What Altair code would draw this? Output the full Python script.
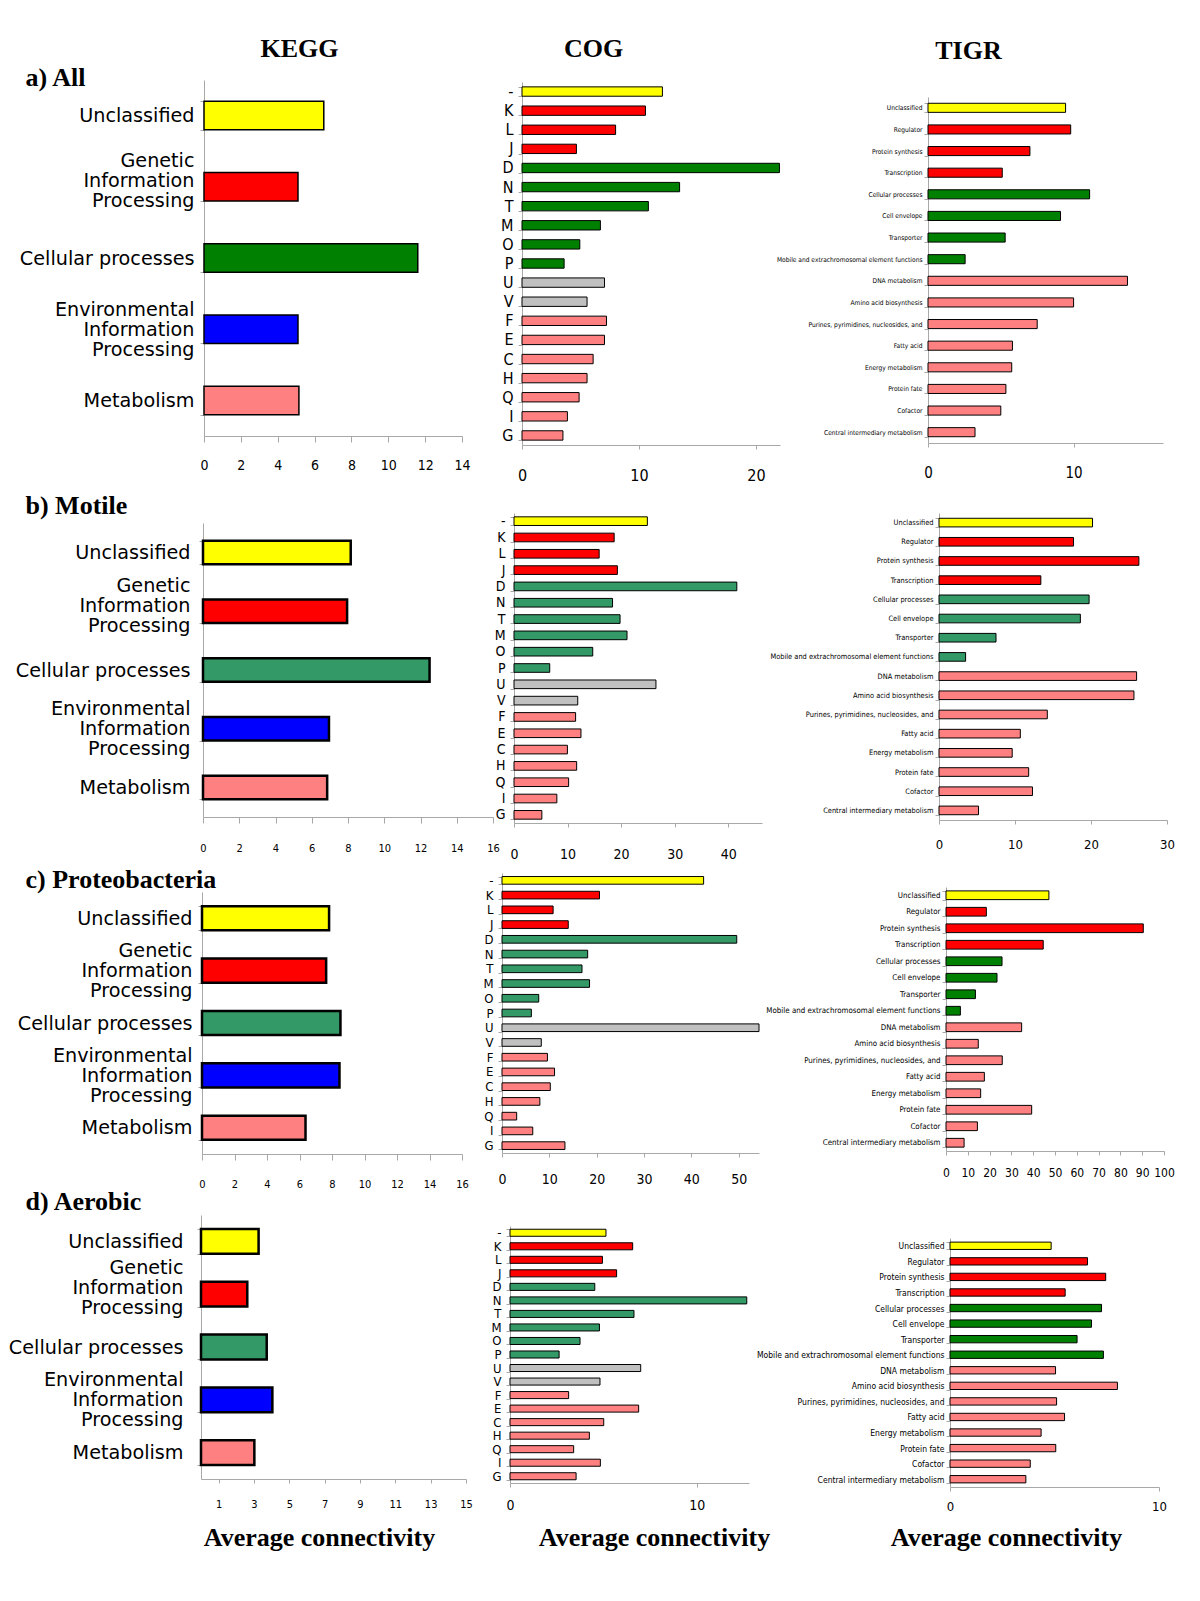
import altair as alt
import pandas as pd

# ---------------- data ----------------
KEGG_CATS = ["Unclassified", "Genetic Information Processing", "Cellular processes",
             "Environmental Information Processing", "Metabolism"]
KEGG_GROUPS = ["Unclassified", "Genetic", "Cellular", "Environmental", "Metabolism"]
KEGG_ALL = [6.5, 5.1, 11.6, 5.1, 5.15]
KEGG_MOTILE = [8.15, 7.95, 12.5, 6.95, 6.85]
KEGG_PROTEO = [7.82, 7.64, 8.52, 8.46, 6.37]
KEGG_AEROBIC = [3.26, 2.62, 3.72, 4.04, 3.02]

COG_CATS = ["-", "K", "L", "J", "D", "N", "T", "M", "O", "P", "U", "V",
            "F", "E", "C", "H", "Q", "I", "G"]
COG_GROUPS = ["Unclassified", "Genetic", "Genetic", "Genetic",
              "Cellular", "Cellular", "Cellular", "Cellular", "Cellular", "Cellular",
              "Other", "Other",
              "Metabolism", "Metabolism", "Metabolism", "Metabolism", "Metabolism",
              "Metabolism", "Metabolism"]
COG_ALL = [12.0, 10.55, 8.0, 4.65, 22.0, 13.47, 10.8, 6.7, 4.94, 3.6, 7.05, 5.56,
           7.22, 7.05, 6.08, 5.56, 4.88, 3.88, 3.5]
COG_MOTILE = [24.9, 18.7, 15.9, 19.3, 41.6, 18.4, 19.8, 21.1, 14.7, 6.67, 26.5, 11.9,
              11.5, 12.5, 9.97, 11.7, 10.2, 8.0, 5.2]
COG_PROTEO = [42.6, 20.6, 10.8, 14.0, 49.6, 18.1, 16.9, 18.5, 7.76, 6.2, 54.3, 8.3,
              9.6, 11.1, 10.2, 8.0, 3.1, 6.5, 13.3]
COG_AEROBIC = [5.14, 6.57, 4.95, 5.71, 4.54, 12.68, 6.64, 4.79, 3.75, 2.63, 7.0, 4.82,
               3.14, 6.89, 5.02, 4.25, 3.41, 4.84, 3.54]

TIGR_CATS = ["Unclassified", "Regulator", "Protein synthesis", "Transcription",
             "Cellular processes", "Cell envelope", "Transporter",
             "Mobile and extrachromosomal element functions", "DNA metabolism",
             "Amino acid biosynthesis", "Purines, pyrimidines, nucleosides, and",
             "Fatty acid", "Energy metabolism", "Protein fate", "Cofactor",
             "Central intermediary metabolism"]
TIGR_GROUPS = ["Unclassified", "Genetic", "Genetic", "Genetic",
               "Cellular", "Cellular", "Cellular", "Cellular",
               "Metabolism", "Metabolism", "Metabolism", "Metabolism",
               "Metabolism", "Metabolism", "Metabolism", "Metabolism"]
TIGR_ALL = [9.45, 9.8, 7.0, 5.1, 11.1, 9.1, 5.3, 2.55, 13.7, 10.0, 7.5, 5.8, 5.75, 5.35, 5.0, 3.23]
TIGR_MOTILE = [20.2, 17.7, 26.3, 13.4, 19.75, 18.6, 7.5, 3.5, 26.0, 25.65, 14.25, 10.7, 9.63, 11.8, 12.3, 5.2]
TIGR_PROTEO = [47.2, 18.5, 90.5, 44.6, 25.7, 23.4, 13.5, 6.6, 34.7, 14.8, 25.8, 17.6, 15.9, 39.3, 14.4, 8.3]
TIGR_AEROBIC = [4.84, 6.58, 7.45, 5.51, 7.25, 6.77, 6.08, 7.34, 5.05, 8.01, 5.1, 5.48, 4.36, 5.06, 3.84, 3.63]

ROW_LABELS = ["a) All", "b) Motile", "c) Proteobacteria", "d) Aerobic"]
COL_LABELS = ["KEGG", "COG", "TIGR"]
X_TITLE = "Average connectivity"

# ---------------- styles / layout ----------------
W, H = 1184, 1585
M = 8
NARROW = "Liberation Sans Narrow, Arial Narrow, DejaVu Sans Condensed, Liberation Sans, sans-serif"
SANS = "DejaVu Sans, Verdana, sans-serif"
SERIF = "Liberation Serif, Times New Roman, serif"
DARK_GREEN = "#008000"
SEA_GREEN = "#339966"
GROUP_ORDER = ["Unclassified", "Genetic", "Cellular", "Environmental", "Other", "Metabolism"]


def colors(green):
    return ["#FFFF00", "#FF0000", green, "#0000FF", "#C0C0C0", "#FF8080"]


def cx(px):
    return px - M


def cy(py):
    return py - M


def panel(cats, vals, groups, box, xmax, xticks, pad, green, stroke_w,
          ylab_font, ylab_size, ylab_pad, xlab_size, xtick, xlab_pad,
          ytitle=None, xtitle=None, multiline=False, gip_shift=-20):
    x0, x1, y0, y1 = box
    df = pd.DataFrame({"cat": cats, "val": vals, "grp": groups})
    yaxis_kw = dict(orient="left", offset=-cx(x0), labelFont=ylab_font, labelFontSize=ylab_size,
                    labelPadding=ylab_pad, labelLimit=500, labelColor="black",
                    tickBand="extent", tickSize=4, tickColor="#a8a8a8",
                    domainColor="#a8a8a8", grid=False, labelLineHeight=20)
    if multiline:
        yaxis_kw["labelExpr"] = ("indexof(datum.label, 'Information') >= 0 ? "
                                 "split(datum.label, ' ') : datum.label")
        yaxis_kw["labelOffset"] = {"condition": [
            {"test": "indexof(datum.label, 'Genetic') >= 0", "value": gip_shift},
            {"test": "indexof(datum.label, 'Information') >= 0", "value": -20}],
            "value": 0}
    if ytitle is not None:
        yaxis_kw.update(title=ytitle[0], titleX=ytitle[1], titleY=ytitle[2], titleAngle=0,
                        titleAlign="left", titleBaseline="alphabetic", titleFont=SERIF,
                        titleFontSize=26, titleFontWeight="bold", titleColor="black")
    else:
        yaxis_kw["title"] = ""
    xaxis_kw = dict(orient="bottom", offset=cy(y1) - H, values=xticks, grid=False,
                    labelFont=NARROW, labelFontSize=xlab_size, labelColor="black",
                    tickSize=xtick, labelPadding=xlab_pad, tickColor="#a8a8a8",
                    domainColor="#a8a8a8", labelFlush=False, labelOverlap=False)
    if xtitle is not None:
        xaxis_kw.update(title=xtitle[0], titleX=xtitle[1], titleY=xtitle[2], titleAngle=0,
                        titleAlign="center", titleBaseline="middle", titleFont=SERIF,
                        titleFontSize=26, titleFontWeight="bold", titleColor="black")
    else:
        xaxis_kw["title"] = ""
    return alt.Chart(df).mark_bar(stroke="black", strokeWidth=stroke_w).encode(
        y=alt.Y("cat:N", scale=alt.Scale(domain=cats, range=[cy(y0), cy(y1)],
                                          paddingInner=pad, paddingOuter=pad / 2),
                axis=alt.Axis(**yaxis_kw)),
        x=alt.X("val:Q", scale=alt.Scale(domain=[0, xmax], range=[cx(x0), cx(x1)],
                                          nice=False, zero=True, clamp=True),
                axis=alt.Axis(**xaxis_kw)),
        color=alt.Color("grp:N", scale=alt.Scale(domain=GROUP_ORDER, range=colors(green)),
                        legend=None),
    )


k2 = list(range(0, 15, 2))
k16 = list(range(0, 17, 2))
kodd = list(range(1, 16, 2))

layers = [
    # ---- row a ----
    panel(KEGG_CATS, KEGG_ALL, KEGG_GROUPS, (204, 462, 80, 436), 14, k2, 0.6, DARK_GREEN, 1.5,
          SANS, 19.2, 6, 14, 6, 16,
          ytitle=(ROW_LABELS[0], cx(25) - cx(204), cy(85)),
          xtitle=(COL_LABELS[0], cx(299), cy(48) - cy(436)), multiline=True, gip_shift=-26),
    panel(COG_CATS, COG_ALL, COG_GROUPS, (522, 780, 82, 445), 22.05, [0, 10, 20], 0.51, DARK_GREEN, 1,
          NARROW, 16, 5, 16, 4, 18,
          xtitle=(COL_LABELS[1], cx(593), cy(48) - cy(445))),
    panel(TIGR_CATS, TIGR_ALL, TIGR_GROUPS, (928, 1163, 97, 443), 16.14, [0, 10], 0.58, DARK_GREEN, 1,
          NARROW, 6.6, 2, 15, 4, 18,
          xtitle=(COL_LABELS[2], cx(968), cy(50) - cy(443))),
    # ---- row b ----
    panel(KEGG_CATS, KEGG_MOTILE, KEGG_GROUPS, (203, 493, 523, 817), 16, k16, 0.6, SEA_GREEN, 2.5,
          SANS, 19.2, 9, 11, 6, 19,
          ytitle=(ROW_LABELS[1], cx(25) - cx(203), cy(513)), multiline=True, gip_shift=-26),
    panel(COG_CATS, COG_MOTILE, COG_GROUPS, (514, 762, 513, 823), 46.3, [0, 10, 20, 30, 40], 0.47,
          SEA_GREEN, 1, NARROW, 14, 5, 14, 4, 20),
    panel(TIGR_CATS, TIGR_MOTILE, TIGR_GROUPS, (939, 1167, 513, 820), 30, [0, 10, 20, 30], 0.55,
          SEA_GREEN, 1, NARROW, 7.4, 2, 13, 4, 14),
    # ---- row c ----
    panel(KEGG_CATS, KEGG_PROTEO, KEGG_GROUPS, (202, 462, 892, 1154), 16, k16, 0.54, SEA_GREEN, 2.5,
          SANS, 19.2, 6, 11, 6, 18,
          ytitle=(ROW_LABELS[2], cx(25) - cx(202), cy(887)), multiline=True, gip_shift=-20),
    panel(COG_CATS, COG_PROTEO, COG_GROUPS, (502, 759, 873, 1153), 54.3, [0, 10, 20, 30, 40, 50], 0.48,
          SEA_GREEN, 1, NARROW, 13, 5, 14, 4, 15),
    panel(TIGR_CATS, TIGR_PROTEO, TIGR_GROUPS, (946, 1164, 887, 1151), 100, list(range(0, 101, 10)),
          0.47, DARK_GREEN, 1, NARROW, 7.9, 2, 12, 4, 12),
    # ---- row d ----
    panel(KEGG_CATS, KEGG_AEROBIC, KEGG_GROUPS, (201, 466, 1215, 1479), 15, kodd, 0.53, SEA_GREEN, 2.5,
          SANS, 19.2, 14, 11, 4, 15,
          ytitle=(ROW_LABELS[3], cx(25) - cx(201), cy(1209)),
          xtitle=(X_TITLE, cx(319), cy(1537) - cy(1479)), multiline=True, gip_shift=-27),
    panel(COG_CATS, COG_AEROBIC, COG_GROUPS, (510, 749, 1226, 1483), 12.8, [0, 10], 0.48,
          SEA_GREEN, 1, NARROW, 13, 5, 14, 4, 11,
          xtitle=(X_TITLE, cx(654), cy(1537) - cy(1483))),
    panel(TIGR_CATS, TIGR_AEROBIC, TIGR_GROUPS, (950, 1159, 1238, 1487), 10, [0, 10], 0.53,
          DARK_GREEN, 1, NARROW, 8.5, 2, 13, 4, 9,
          xtitle=(X_TITLE, cx(1006), cy(1537) - cy(1487))),
]

chart = alt.layer(*layers).resolve_scale(
    x="independent", y="independent", color="independent"
).properties(
    width=W, height=H, padding=0, autosize=alt.AutoSizeParams(type="none")
).configure_view(stroke=None)

chart.save("out.html", embed_options={"renderer": "svg", "actions": False})
